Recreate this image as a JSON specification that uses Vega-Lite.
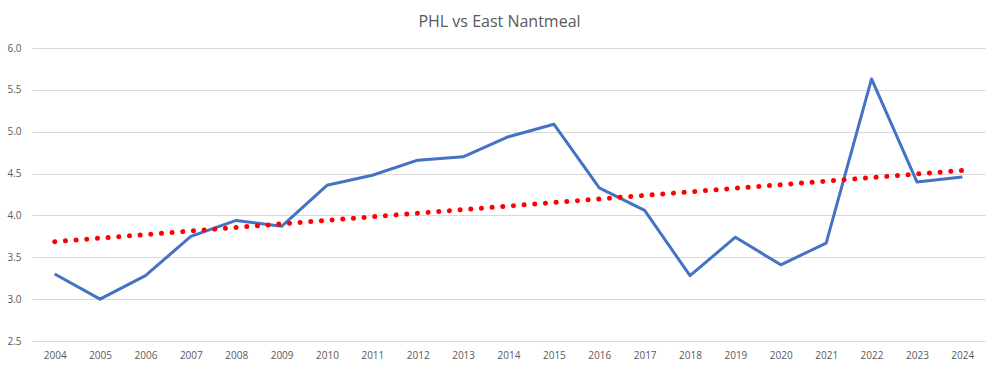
{
  "$schema": "https://vega.github.io/schema/vega-lite/v6.json",
  "autosize": "none",
  "width": 953,
  "height": 293,
  "padding": {"left": 32, "top": 48, "right": 15, "bottom": 30},
  "background": "white",
  "title": {
    "text": "PHL vs East Nantmeal",
    "font": "Open Sans",
    "fontSize": 16,
    "fontWeight": "normal",
    "color": "#595959",
    "anchor": "middle",
    "offset": 13,
    "dx": -9
  },
  "config": {
    "view": {"stroke": null},
    "axis": {"labelFont": "Open Sans", "labelFontSize": 10, "labelColor": "#595959"}
  },
  "data": {
    "values": [
      {"year": 2004, "value": 3.30},
      {"year": 2005, "value": 3.00},
      {"year": 2006, "value": 3.28},
      {"year": 2007, "value": 3.75},
      {"year": 2008, "value": 3.94},
      {"year": 2009, "value": 3.87},
      {"year": 2010, "value": 4.36},
      {"year": 2011, "value": 4.48},
      {"year": 2012, "value": 4.66},
      {"year": 2013, "value": 4.70},
      {"year": 2014, "value": 4.94},
      {"year": 2015, "value": 5.09},
      {"year": 2016, "value": 4.33},
      {"year": 2017, "value": 4.06},
      {"year": 2018, "value": 3.28},
      {"year": 2019, "value": 3.74},
      {"year": 2020, "value": 3.41},
      {"year": 2021, "value": 3.67},
      {"year": 2022, "value": 5.63},
      {"year": 2023, "value": 4.40},
      {"year": 2024, "value": 4.46}
    ]
  },
  "encoding": {
    "x": {
      "field": "year",
      "type": "quantitative",
      "scale": {"domain": [2003.5, 2024.5], "nice": false, "zero": false},
      "axis": {
        "title": null,
        "values": [2004,2005,2006,2007,2008,2009,2010,2011,2012,2013,2014,2015,2016,2017,2018,2019,2020,2021,2022,2023,2024],
        "format": "d",
        "grid": false,
        "domain": false,
        "ticks": false,
        "labelPadding": 9
      }
    },
    "y": {
      "field": "value",
      "type": "quantitative",
      "scale": {"domain": [2.5, 6.0], "nice": false, "zero": false},
      "axis": {
        "title": null,
        "values": [2.5, 3.0, 3.5, 4.0, 4.5, 5.0, 5.5, 6.0],
        "format": ".1f",
        "domain": false,
        "ticks": false,
        "labelPadding": 11,
        "gridColor": "#D9D9D9",
        "gridWidth": 1
      }
    }
  },
  "layer": [
    {
      "mark": {"type": "line", "color": "#4472C4", "strokeWidth": 3, "strokeJoin": "round"}
    },
    {
      "transform": [{"regression": "value", "on": "year"}],
      "mark": {"type": "line", "color": "#FF0000", "strokeWidth": 5, "strokeCap": "round", "strokeDash": [0.1, 10.6]}
    }
  ]
}
